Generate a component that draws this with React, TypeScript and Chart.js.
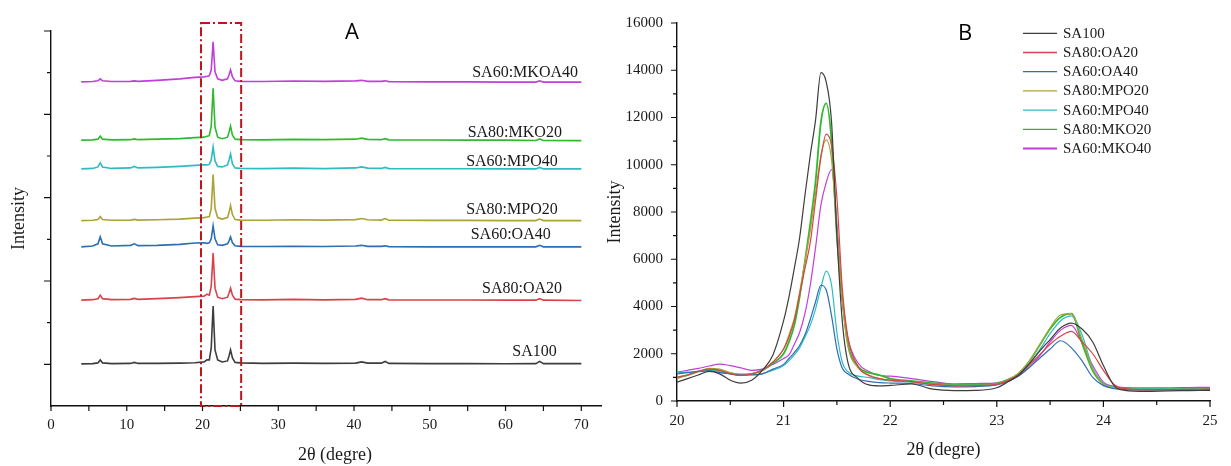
import { useEffect, useRef } from 'react';
import { Chart, registerables } from 'chart.js';

Chart.register(...registerables);

// ---------- shared series styling ----------
const COLORS = ['#3d3d3d', '#d8434b', '#2e6eb4', '#aca237', '#2cbcc2', '#2fb92f', '#c03fd8'];

// ---------- Panel A: full-range XRD patterns, stacked ----------
const NAMES_A = ['SA100', 'SA80:OA20', 'SA60:OA40', 'SA80:MPO20', 'SA60:MPO40', 'SA80:MKO20', 'SA60:MKOA40'];
const TWO_THETA_A = [4, 5.5, 6.2, 6.5, 6.8, 8, 10.5, 11, 11.5, 14, 17, 19, 20.2, 20.6, 20.9, 21.15, 21.4, 21.65, 22.0, 22.6,
  23.3, 23.5, 23.7, 23.95, 24.3, 25, 28, 32, 36, 40.2, 41, 41.8, 43.6, 44.1, 44.6, 50, 55, 60, 64, 64.5, 65, 70];
// vertical offset of each stacked pattern
const OFFSETS_A = [1010, 2540, 3820, 4450, 5690, 6380, 7780];
const SA100_A = [0, 7, 24, 96, 24, 7, 12, 36, 12, 12, 19, 29, 48, 96, 96, 384, 1392, 336, 96, 48,
  72, 192, 336, 144, 36, 24, 12, 19, 12, 19, 48, 19, 19, 60, 12, 7, 7, 5, 7, 60, 7, 7];
const SA80_OA20_A = [0, 12, 36, 120, 36, 12, 19, 43, 19, 36, 60, 84, 96, 144, 120, 336, 1128, 288, 72, 36,
  72, 168, 288, 120, 24, 12, 7, 19, 7, 19, 48, 12, 12, 36, 7, 5, 5, 0, 0, 36, 0, -7];
const SA60_OA40_A = [0, 19, 72, 240, 72, 19, 36, 72, 29, 36, 60, 91, 96, 84, 96, 192, 504, 192, 48, 36,
  72, 144, 240, 96, 24, 12, 7, 12, 7, 19, 36, 12, 12, 24, 5, 0, 0, 0, 0, 36, 0, 0];
const SA80_MPO20_A = [0, 7, 24, 96, 24, 7, 12, 29, 12, 19, 36, 60, 72, 84, 96, 288, 1104, 288, 72, 36,
  72, 192, 360, 144, 24, 12, 7, 19, 12, 24, 48, 19, 12, 48, 7, 5, 5, 0, 0, 36, 0, 0];
const SA60_MPO40_A = [0, 12, 48, 144, 48, 12, 24, 60, 24, 36, 60, 84, 96, 96, 108, 216, 528, 192, 60, 48,
  96, 216, 360, 120, 24, 12, 7, 19, 7, 24, 48, 19, 12, 36, 7, 5, 5, 0, 0, 36, 0, 0];
const SA80_MKO20_A = [0, 7, 24, 96, 24, 7, 12, 31, 12, 24, 36, 60, 72, 96, 108, 336, 1248, 312, 72, 36,
  72, 192, 336, 120, 24, 12, 7, 19, 12, 24, 48, 19, 12, 36, 7, 5, 0, 0, -7, 29, -7, -12];
const SA60_MKOA40_A = [0, 7, 24, 72, 24, 7, 12, 24, 12, 36, 72, 108, 120, 132, 144, 288, 960, 240, 72, 36,
  72, 168, 288, 120, 24, 12, 7, 19, 12, 24, 36, 12, 12, 24, 5, 0, 0, -7, -7, 24, -7, -7];
const SERIES_A = [SA100_A, SA80_OA20_A, SA60_OA40_A, SA80_MPO20_A, SA60_MPO40_A, SA80_MKO20_A, SA60_MKOA40_A];
// where each pattern's name is written (data coordinates: left edge, text middle)
const LABEL_AT_A = [
  { x: 60.9, y: 1300 }, { x: 56.9, y: 2810 }, { x: 55.4, y: 4100 }, { x: 54.8, y: 4700 },
  { x: 54.8, y: 5860 }, { x: 55.0, y: 6550 }, { x: 55.6, y: 8000 },
];
// zoom window marked on panel A (2θ range and top of the box)
const ZOOM_BOX = { from: 19.8, to: 25.1, top: 9190 };

// ---------- Panel B: 20–25° detail ----------
const NAMES_B = ['SA100', 'SA80:OA20', 'SA60:OA40', 'SA80:MPO20', 'SA60:MPO40', 'SA80:MKO20', 'SA60:MKO40'];
const TWO_THETA_B = [20.0, 20.1, 20.2, 20.3, 20.4, 20.5, 20.6, 20.7, 20.8, 20.9, 21.0,
  21.05, 21.1, 21.15, 21.2, 21.25, 21.3, 21.35, 21.4, 21.45, 21.5, 21.55, 21.6,
  21.7, 21.8, 21.9, 22.0, 22.2, 22.4, 22.6, 22.8, 23.0,
  23.1, 23.2, 23.3, 23.4, 23.5, 23.6, 23.7, 23.8, 23.9, 24.0, 24.1, 24.2,
  24.4, 24.6, 24.8, 25.0];
const SA100_B = [800, 950, 1100, 1250, 1150, 880, 760, 880, 1300, 1950, 3400,
  4400, 5600, 6900, 8700, 10400, 11900, 13900, 13500, 11800, 7000, 3400, 1700,
  950, 680, 640, 660, 720, 500, 440, 450, 560,
  800, 1080, 1550, 2100, 2600, 3100, 3300, 3050, 2500, 1500, 650, 450,
  410, 430, 440, 450];
const SA80_OA20_B = [1000, 1100, 1250, 1350, 1300, 1150, 1080, 1150, 1300, 1650, 2200,
  2700, 3400, 4500, 5600, 6700, 8500, 10300, 11300, 10800, 8600, 4800, 2800,
  1450, 1080, 950, 880, 820, 700, 640, 650, 700,
  850, 1100, 1500, 1950, 2400, 2750, 2950, 2500, 2000, 1300, 700, 520,
  470, 480, 490, 500];
const SA60_OA40_B = [1150, 1200, 1250, 1280, 1200, 1150, 1100, 1100, 1150, 1350, 1550,
  1800, 2050, 2350, 2800, 3450, 4200, 4900, 4700, 3600, 2200, 1400, 1150,
  920, 830, 780, 760, 740, 640, 600, 610, 680,
  820, 1050, 1400, 1800, 2200, 2550, 2250, 1700, 1000, 650, 520, 480,
  470, 480, 480, 490];
const SA80_MPO20_B = [950, 1100, 1250, 1380, 1350, 1200, 1100, 1150, 1300, 1650, 2200,
  2800, 3500, 4600, 5900, 7200, 8800, 10400, 11050, 10200, 7200, 4300, 2400,
  1400, 1100, 950, 880, 820, 720, 660, 660, 720,
  880, 1150, 1650, 2350, 3100, 3650, 3700, 2600, 1350, 720, 560, 520,
  480, 490, 490, 500];
const SA60_MPO40_B = [1200, 1220, 1260, 1300, 1250, 1150, 1100, 1120, 1150, 1300, 1500,
  1700, 1950, 2250, 2700, 3200, 3900, 4800, 5500, 4900, 2900, 1650, 1250,
  1050, 1000, 900, 850, 800, 700, 660, 660, 720,
  860, 1100, 1550, 2150, 2850, 3400, 3600, 2800, 1400, 750, 580, 530,
  500, 510, 510, 520];
const SA80_MKO20_B = [1000, 1100, 1250, 1330, 1300, 1180, 1130, 1150, 1300, 1600, 2000,
  2500, 3200, 4400, 5900, 7500, 9300, 11800, 12600, 11000, 7000, 4400, 2500,
  1450, 1200, 1100, 950, 850, 760, 700, 700, 740,
  900, 1150, 1650, 2350, 3050, 3550, 3700, 2450, 1280, 720, 560, 530,
  500, 510, 510, 520];
const SA60_MKO40_B = [1220, 1300, 1380, 1480, 1560, 1500, 1400, 1300, 1350, 1550, 1800,
  1950, 2400, 2900, 3700, 4900, 6500, 8300, 9250, 9800, 7500, 4300, 2700,
  1600, 1250, 1080, 1050, 950, 820, 720, 740, 770,
  880, 1050, 1400, 1900, 2500, 3000, 3200, 2450, 1500, 800, 620, 570,
  560, 560, 570, 580];
const SERIES_B = [SA100_B, SA80_OA20_B, SA60_OA40_B, SA80_MPO20_B, SA60_MPO40_B, SA80_MKO20_B, SA60_MKO40_B];

const SERIF = '"Liberation Serif", "Times New Roman", serif';
const SANS = '"Open Sans", "Liberation Sans", sans-serif';
const INK = '#1a1a1a';

const isInt = (v: number) => Math.abs(v - Math.round(v)) < 1e-6;

// Origin-style outward tick marks with individual lengths
function tickMarks(id: string, xLen: (v: number) => number, yLen: (v: number) => number) {
  return {
    id,
    afterDraw(chart: any) {
      const { ctx, chartArea } = chart;
      const xs = chart.scales.x;
      const ys = chart.scales.y;
      ctx.save();
      ctx.strokeStyle = '#111';
      ctx.lineWidth = 1.2;
      ctx.beginPath();
      xs.ticks.forEach((t: any) => {
        const L = xLen(t.value);
        if (!L) return;
        const px = xs.getPixelForValue(t.value);
        ctx.moveTo(px, chartArea.bottom);
        ctx.lineTo(px, chartArea.bottom + L);
      });
      ys.ticks.forEach((t: any) => {
        const L = yLen(t.value);
        if (!L) return;
        const py = ys.getPixelForValue(t.value);
        ctx.moveTo(chartArea.left, py);
        ctx.lineTo(chartArea.left - L, py);
      });
      ctx.stroke();
      ctx.restore();
    },
  };
}

const panelADecor = {
  id: 'panelADecor',
  afterDatasetsDraw(chart: any) {
    const { ctx } = chart;
    const xs = chart.scales.x;
    const ys = chart.scales.y;
    ctx.save();
    // pattern names
    ctx.font = `16px ${SERIF}`;
    ctx.fillStyle = INK;
    ctx.textAlign = 'left';
    ctx.textBaseline = 'middle';
    NAMES_A.forEach((name, i) => {
      const p = LABEL_AT_A[i];
      ctx.fillText(name, xs.getPixelForValue(p.x), ys.getPixelForValue(p.y));
    });
    // dash-dot box around the 20–25° window
    const x0 = xs.getPixelForValue(ZOOM_BOX.from);
    const x1 = xs.getPixelForValue(ZOOM_BOX.to);
    const y0 = ys.getPixelForValue(0);
    const y1 = ys.getPixelForValue(ZOOM_BOX.top);
    ctx.strokeStyle = '#c0141c';
    ctx.lineWidth = 2;
    ctx.setLineDash([9, 3, 2, 3]);
    ctx.strokeRect(x0, y1, x1 - x0, y0 - y1);
    ctx.setLineDash([]);
    // panel letter
    ctx.font = `22px ${SANS}`;
    ctx.fillStyle = '#000';
    ctx.textAlign = 'center';
    ctx.fillText('A', 352, 33);
    // x-axis title
    ctx.font = `18px ${SERIF}`;
    ctx.fillStyle = INK;
    ctx.fillText('2θ (degre)', 335, 455);
    ctx.restore();
  },
};

const panelBDecor = {
  id: 'panelBDecor',
  afterDraw(chart: any) {
    const { ctx } = chart;
    ctx.save();
    ctx.font = `15px ${SERIF}`;
    ctx.textAlign = 'left';
    ctx.textBaseline = 'middle';
    chart.data.datasets.forEach((ds: any, i: number) => {
      const y = 33.3 + i * 19.2;
      ctx.strokeStyle = ds.borderColor;
      ctx.lineWidth = i === 6 ? 2.2 : 1.3;
      ctx.beginPath();
      ctx.moveTo(423, y);
      ctx.lineTo(457, y);
      ctx.stroke();
      ctx.fillStyle = INK;
      ctx.fillText(ds.label, 463, y + 0.5);
    });
    ctx.font = `22px ${SANS}`;
    ctx.fillStyle = '#000';
    ctx.textAlign = 'center';
    ctx.fillText('B', 365, 34);
    ctx.restore();
  },
};

function chartA(): any {
  return {
    type: 'line',
    data: {
      datasets: SERIES_A.map((arr, k) => ({
        label: NAMES_A[k],
        data: TWO_THETA_A.map((x, i) => ({ x, y: OFFSETS_A[k] + arr[i] })),
        borderColor: COLORS[k],
        borderWidth: 1.6,
        pointRadius: 0,
        tension: 0,
        fill: false,
      })),
    },
    options: {
      animation: false,
      responsive: false,
      devicePixelRatio: 1,
      layout: { padding: { left: 0, top: 31, right: 9, bottom: 0 } },
      plugins: { legend: { display: false }, tooltip: { enabled: false } },
      scales: {
        x: {
          type: 'linear',
          min: 0,
          max: 72.6,
          afterFit: (s: any) => { s.height = 60; },
          grid: { display: false, drawTicks: false },
          border: { display: true, color: '#111', width: 1.4 },
          ticks: {
            stepSize: 5,
            includeBounds: false,
            autoSkip: false,
            maxRotation: 0,
            padding: 10,
            color: INK,
            font: { family: SERIF, size: 15 },
            callback: (v: any) => (Number(v) % 10 === 0 ? String(v) : ''),
          },
        },
        y: {
          type: 'linear',
          min: 0,
          max: 9000,
          afterFit: (s: any) => { s.width = 51; },
          grid: { display: false, drawTicks: false },
          border: { display: true, color: '#111', width: 1.4 },
          ticks: { stepSize: 1000, display: false },
          title: {
            display: true,
            text: 'Intensity',
            color: INK,
            font: { family: SERIF, size: 18 },
            padding: { top: 8, bottom: 0 },
          },
        },
      },
    },
    plugins: [
      tickMarks('ticksA', () => 5, (v) => (v === 0 ? 0 : (v / 1000) % 2 === 1 ? 7 : 4)),
      panelADecor,
    ],
  };
}

function chartB(): any {
  return {
    type: 'line',
    data: {
      datasets: SERIES_B.map((arr, k) => ({
        label: NAMES_B[k],
        data: TWO_THETA_B.map((x, i) => ({ x, y: arr[i] })),
        borderColor: COLORS[k],
        borderWidth: k === 5 ? 1.8 : 1.2,
        pointRadius: 0,
        cubicInterpolationMode: 'monotone',
        fill: false,
      })),
    },
    options: {
      animation: false,
      responsive: false,
      devicePixelRatio: 1,
      layout: { padding: { left: 0, top: 15, right: 21, bottom: 0 } },
      plugins: { legend: { display: false }, tooltip: { enabled: false } },
      scales: {
        x: {
          type: 'linear',
          min: 20,
          max: 25,
          afterFit: (s: any) => { s.height = 65; },
          grid: { display: false, drawTicks: false },
          border: { display: true, color: '#111', width: 1.4 },
          ticks: {
            stepSize: 0.5,
            autoSkip: false,
            maxRotation: 0,
            padding: 11,
            color: INK,
            font: { family: SERIF, size: 15 },
            callback: (v: any) => (isInt(Number(v)) ? String(Math.round(Number(v))) : ''),
          },
          title: {
            display: true,
            text: '2θ (degre)',
            color: INK,
            font: { family: SERIF, size: 18 },
            padding: { top: 0, bottom: 5 },
          },
        },
        y: {
          type: 'linear',
          min: 0,
          max: 16000,
          afterFit: (s: any) => { s.width = 77; },
          grid: { display: false, drawTicks: false },
          border: { display: true, color: '#111', width: 1.4 },
          ticks: {
            stepSize: 1000,
            autoSkip: false,
            padding: 14,
            color: INK,
            font: { family: SERIF, size: 15 },
            callback: (v: any) => (Number(v) % 2000 === 0 ? String(v) : ''),
          },
          title: {
            display: true,
            text: 'Intensity',
            color: INK,
            font: { family: SERIF, size: 18 },
            padding: { top: 4, bottom: 0 },
          },
        },
      },
    },
    plugins: [
      tickMarks('ticksB', (v) => (isInt(v) ? 6 : 4), (v) => (v % 2000 === 0 ? 6 : 4)),
      panelBDecor,
    ],
  };
}

export default function App() {
  const refA = useRef<HTMLCanvasElement>(null);
  const refB = useRef<HTMLCanvasElement>(null);

  useEffect(() => {
    const a = new Chart(refA.current as HTMLCanvasElement, chartA());
    const b = new Chart(refB.current as HTMLCanvasElement, chartB());
    return () => {
      a.destroy();
      b.destroy();
    };
  }, []);

  return (
    <div style={{ position: 'fixed', left: 0, top: 0, width: 1231, height: 466, background: '#fff', overflow: 'hidden' }}>
      <canvas ref={refA} width={610} height={466} style={{ position: 'absolute', left: 0, top: 0 }} />
      <canvas ref={refB} width={631} height={466} style={{ position: 'absolute', left: 600, top: 0 }} />
    </div>
  );
}
